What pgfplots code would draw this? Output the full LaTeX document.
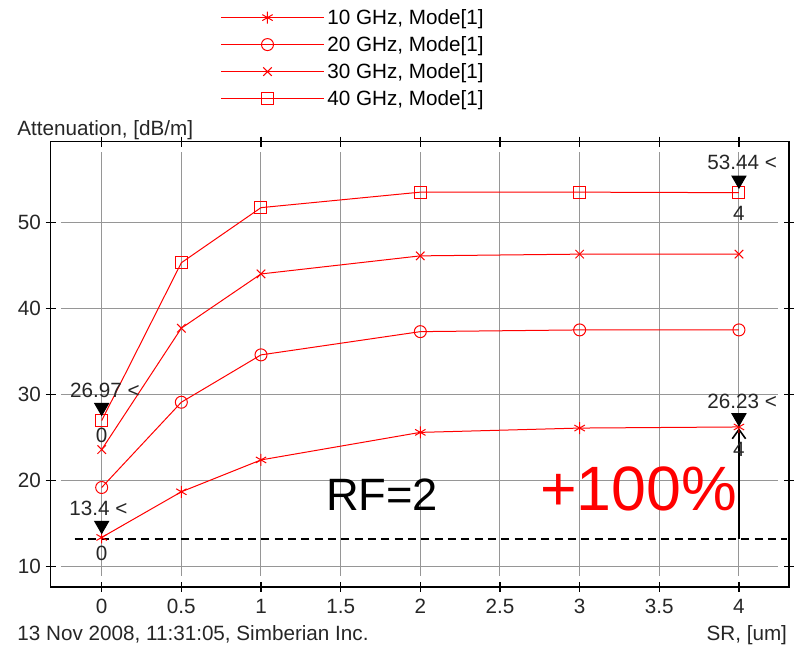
\documentclass[border=0pt]{standalone}
\usepackage{fontspec}
\setmainfont{Liberation Sans}
\usepackage{pgfplots}
\pgfplotsset{compat=1.18}
\usetikzlibrary{arrows.meta}
\definecolor{gridgray}{RGB}{150,150,150}
\newcommand{\lf}{\fontsize{15.5}{18}\selectfont}
\begin{document}
\begin{tikzpicture}[x=0.75pt,y=0.75pt]
\path[use as bounding box] (-50.7,-63.3) rectangle (745.3,586.7);
\begin{axis}[
  at={(0,0)}, anchor=south west,
  scale only axis, width=553.7pt, height=333.75pt,
  xmin=-0.320, xmax=4.314, ymin=7.677, ymax=59.36,
  xtick={0,0.5,1,1.5,2,2.5,3,3.5,4},
  xticklabels={0,0.5,1,1.5,2,2.5,3,3.5,4},
  ytick={10,20,30,40,50},
  axis line style={black, line width=1.2pt},
  tick align=center, major tick length=7.5pt,
  tick style={black, line width=0.9pt},
  tick label style={font=\lf, text=black!85},
  xticklabel style={yshift=-2pt},
  /pgf/number format/assume math mode=true,
  clip=false,
  legend style={at={(0.2303,1.3045)}, anchor=north west, draw=none, fill=none,
    font=\lf, row sep=3.5pt, inner sep=0pt},
  legend cell align=left,
  every axis plot/.append style={red, line width=0.75pt, mark size=4.5pt},
  legend image code/.code={
    \path (0pt,0pt) -- (77pt,0pt);
    \draw[mark repeat=2,mark phase=2] plot coordinates {(0pt,0pt) (34.5pt,0pt) (69pt,0pt)};}
]
% grid lines, inset from the frame
\pgfplotsinvokeforeach{0,0.5,1,1.5,2,2.5,3,3.5,4}{
  \addplot[gridgray, line width=0.75pt, mark=none, forget plot] coordinates {(#1,8.92) (#1,58.165)};
}
\pgfplotsinvokeforeach{10,20,30,40,50}{
  \addplot[gridgray, line width=0.75pt, mark=none, forget plot] coordinates {(-0.2555,#1) (4.2448,#1)};
}
\addplot[mark=asterisk] coordinates {(0,13.4) (0.5,18.7) (1,22.4) (2,25.6) (3,26.1) (4,26.23)};
\addlegendentry{10 GHz, Mode[1]}
\addplot[mark=o] coordinates {(0,19.2) (0.5,29.1) (1,34.6) (2,37.3) (3,37.5) (4,37.5)};
\addlegendentry{20 GHz, Mode[1]}
\addplot[mark=x] coordinates {(0,23.6) (0.5,37.7) (1,44.0) (2,46.1) (3,46.3) (4,46.3)};
\addlegendentry{30 GHz, Mode[1]}
\addplot[mark=square] coordinates {(0,26.97) (0.5,45.3) (1,51.7) (2,53.5) (3,53.5) (4,53.44)};
\addlegendentry{40 GHz, Mode[1]}
% annotation markers
\addplot[black, only marks, mark=triangle*, mark size=6pt, mark options={rotate=180, fill=black}, forget plot]
  coordinates {(0,28.5) (0,14.8) (4,54.9) (4,27.3)};
% dashed reference line
\addplot[black, line width=1pt, dash pattern=on 6pt off 4pt, mark=none, forget plot]
  coordinates {(-0.17,13.2) (4.30,13.2)};
% vertical arrow
\addplot[black, line width=1.2pt, mark=none, -{Straight Barb[length=7pt,width=10pt]}, forget plot]
  coordinates {(4,13.2) (4,26.1)};
\node[anchor=base, font=\lf, text=black!85] at (axis cs:0.02,29.7) {26.97 <};
\node[anchor=base, font=\lf, text=black!85] at (axis cs:-0.02,15.9) {13.4 <};
\node[anchor=base, font=\lf, text=black!85] at (axis cs:4.02,56.1) {53.44 <};
\node[anchor=base, font=\lf, text=black!85] at (axis cs:4.02,28.4) {26.23 <};
\node[font=\lf, text=black!85] at (axis cs:0,25.3) {0};
\node[font=\lf, text=black!85] at (axis cs:0,11.5) {0};
\node[font=\lf, text=black!85] at (axis cs:4,51.0) {4};
\node[font=\lf, text=black!85] at (axis cs:4,23.6) {4};
\node[font=\fontsize{34}{38}\selectfont, text=black] at (axis cs:1.76,18.4) {RF=2};
\node[font=\fontsize{47}{52}\selectfont, text=red] at (axis cs:3.37,19.0) {+100\%};
\end{axis}
\node[anchor=base west, font=\lf, text=black!85] at (-38,-53.5) {13 Nov 2008, 11:31:05, Simberian Inc.};
\node[anchor=base east, font=\lf, text=black!85] at (741,-53.5) {SR, [um]};
\node[anchor=base west, font=\lf, text=black!85] at (-38,451.5) {Attenuation, [dB/m]};
\end{tikzpicture}
\end{document}
